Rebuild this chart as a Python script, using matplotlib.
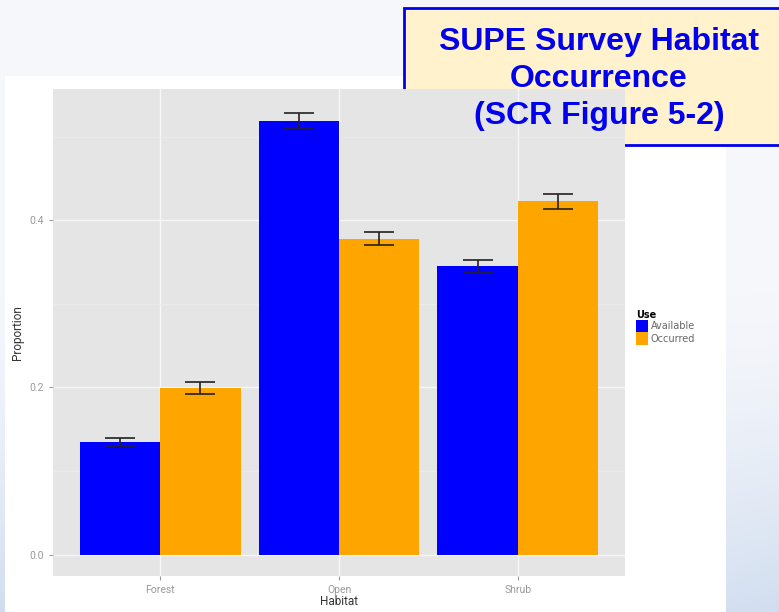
import numpy as np
import matplotlib.pyplot as plt
from matplotlib.patches import Rectangle

habitats = ["Forest", "Open", "Shrub"]
available = [0.135, 0.519, 0.345]
occurred = [0.199, 0.378, 0.423]
available_err = [0.005, 0.009, 0.008]
occurred_err = [0.007, 0.008, 0.009]
use_labels = ["Available", "Occurred"]
colors = ["#0000ff", "#ffa500"]

W, H = 779, 612
fig = plt.figure(figsize=(W / 100, H / 100), dpi=100)

# slide background with a soft blue gradient toward the bottom
bg = fig.add_axes([0, 0, 1, 1])
bg.set_axis_off()
yy = np.linspace(0, 1, 200)[:, None]
xx = np.linspace(0, 1, 200)[None, :]
t = np.clip((yy - 0.45) / 0.55, 0, 1) ** 1.5 * (0.4 + 0.6 * np.abs(xx - 0.5) * 2)
base = np.array([0.965, 0.97, 0.985])
blue = np.array([0.82, 0.87, 0.94])
img = base + (blue - base) * t[..., None]
bg.imshow(img, extent=[0, 1, 0, 1], aspect="auto", origin="upper")
bg.set_xlim(0, 1)
bg.set_ylim(0, 1)

# white picture panel
bg.add_patch(Rectangle((5 / W, 0), (726 - 5) / W, (H - 76) / H,
                       facecolor="white", edgecolor="none", zorder=2))

# plot area
x0, x1, y0, y1 = 53, 625, 89, 576
ax = fig.add_axes([x0 / W, 1 - y1 / H, (x1 - x0) / W, (y1 - y0) / H])
ax.set_facecolor("#e5e5e5")
for s in ax.spines.values():
    s.set_visible(False)

pos = np.arange(1, len(habitats) + 1)
bw = 0.45
ax.bar(pos - bw / 2, available, width=bw, color=colors[0], zorder=3, label=use_labels[0])
ax.bar(pos + bw / 2, occurred, width=bw, color=colors[1], zorder=3, label=use_labels[1])
ax.errorbar(pos - bw / 2, available, yerr=available_err, fmt="none", ecolor="#222222",
            elinewidth=1.2, capsize=11, capthick=1.2, zorder=4)
ax.errorbar(pos + bw / 2, occurred, yerr=occurred_err, fmt="none", ecolor="#222222",
            elinewidth=1.2, capsize=11, capthick=1.2, zorder=4)

ax.set_xlim(0.4, 3.6)
ax.set_ylim(-0.0255, 0.557)
ax.set_yticks([0.0, 0.2, 0.4])
ax.set_yticks([0.1, 0.3, 0.5], minor=True)
ax.set_yticklabels(["0.0", "0.2", "0.4"])
ax.set_xticks(pos)
ax.set_xticklabels(habitats)
ax.grid(True, which="major", color="#f7f7f7", linewidth=1.0, zorder=0)
ax.grid(True, which="minor", axis="y", color="#ececec", linewidth=0.6, zorder=0)
ax.set_axisbelow(True)
ax.tick_params(axis="both", which="major", colors="#999999", labelcolor="#999999",
               labelsize=7.5, length=3, width=0.8)
ax.tick_params(axis="y", which="minor", length=0)
ax.set_xlabel("Habitat", fontsize=8.5, color="#333333", labelpad=0, fontfamily="Roboto")
ax.set_ylabel("Proportion", fontsize=8.5, color="#333333", labelpad=4, fontfamily="Roboto")
for lbl in ax.get_xticklabels() + ax.get_yticklabels():
    lbl.set_fontfamily("Roboto")

leg = fig.legend(loc="upper left", bbox_to_anchor=(632 / W, 1 - 306 / H), frameon=False,
                 title="Use", fontsize=7, handlelength=1.2, handleheight=1.6,
                 handletextpad=0.3, labelspacing=0.0, borderaxespad=0, alignment="left")
leg.get_title().set_fontweight("bold")
leg.get_title().set_fontsize(7)
for txt in leg.get_texts():
    txt.set_color("#666666")

# title box
bg.add_patch(Rectangle((404 / W, 1 - 145 / H), (779 - 404) / W + 0.01, (145 - 8) / H,
                       facecolor="#fff2cc", edgecolor="#0000ee", linewidth=2, zorder=5))
fig.text(599 / W, 1 - 79 / H, "SUPE Survey Habitat\nOccurrence\n(SCR Figure 5-2)",
         ha="center", va="center", color="#0000ee", fontsize=23, fontweight="bold",
         fontfamily="Liberation Sans", linespacing=1.3, zorder=6)

fig.savefig("out.png", dpi=100)
